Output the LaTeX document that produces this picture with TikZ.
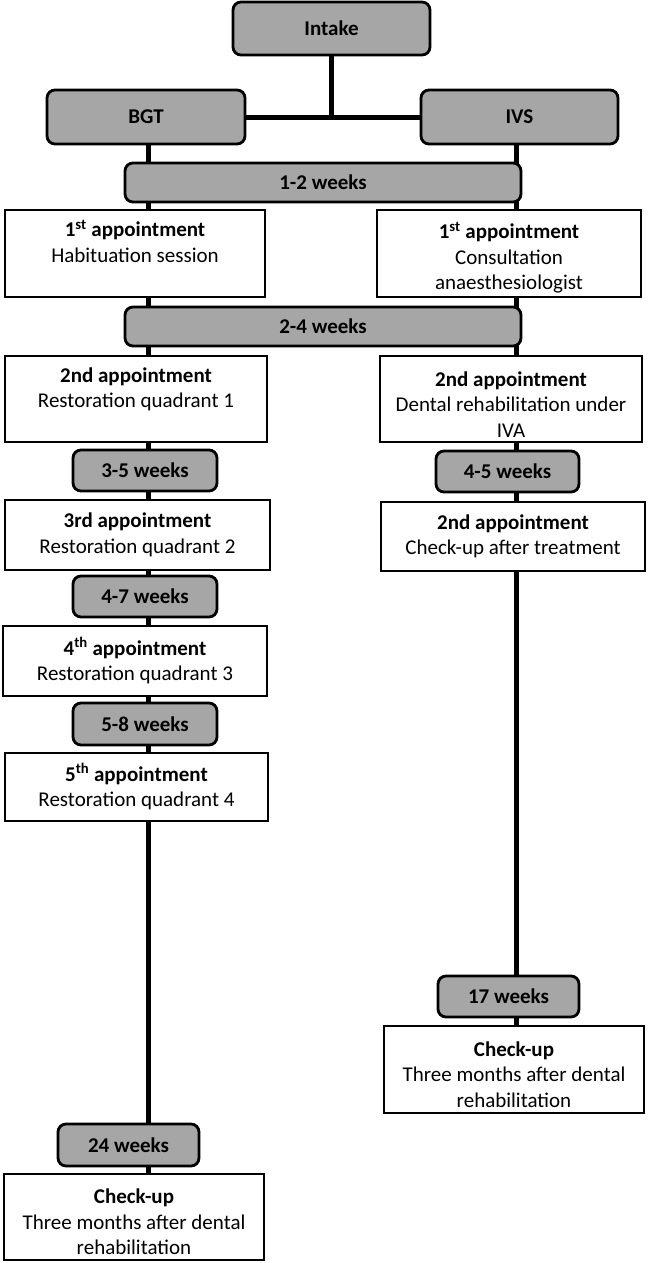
\documentclass[tikz,border=0pt]{standalone}
\usepackage{fontspec}
\setmainfont{Carlito}
\usetikzlibrary{backgrounds}
\definecolor{boxgray}{RGB}{166,166,166}
\newcommand{\toppad}{\rule{0pt}{25pt}}
\begin{document}
\begin{tikzpicture}[x=1pt,y=-1pt,
  every node/.style={font=\fontsize{21}{25.5}\selectfont, inner sep=0pt, align=center},
  gbox/.style={draw, line width=2.8pt, rounded corners=8pt, fill=boxgray, font=\fontsize{21}{25.5}\selectfont\bfseries},
  wbox/.style={draw, line width=2.5pt, fill=white},
  conn/.style={line width=5pt}]
\useasboundingbox (0,0) rectangle (648,1263);
% top
\node[gbox, minimum width=197pt, minimum height=53pt] (intake) at (331.5,28.5) {Intake};
\node[gbox, minimum width=198pt, minimum height=54pt] (bgt) at (146,117) {BGT};
\node[gbox, minimum width=197pt, minimum height=54pt] (ivs) at (519.5,117) {IVS};
\node[gbox, minimum width=396pt, minimum height=39pt] (w12) at (323,182.5) {1-2 weeks};
\node[wbox, minimum width=260pt, minimum height=87pt] (l1) at (135,253.5) {\toppad\textbf{1\textsuperscript{st} appointment}\\Habituation session\\\strut};
\node[wbox, minimum width=264pt, minimum height=87pt] (r1) at (509,253.5) {\toppad\textbf{1\textsuperscript{st} appointment}\\Consultation\\anaesthesiologist};
\node[gbox, minimum width=396pt, minimum height=39pt] (w24) at (323,326.5) {2-4 weeks};
\node[wbox, minimum width=262pt, minimum height=86pt] (l2) at (136,399) {\toppad\textbf{2nd appointment}\\Restoration quadrant 1\\\strut};
\node[wbox, minimum width=262pt, minimum height=86pt] (r2) at (511,399) {\toppad\textbf{2nd appointment}\\Dental rehabilitation under\\IVA};
% left column
\node[gbox, minimum width=144pt, minimum height=41pt] (w35) at (145,470.5) {3-5 weeks};
\node[wbox, minimum width=265pt, minimum height=70pt] (l3) at (137.5,535) {\textbf{3rd appointment}\\Restoration quadrant 2};
\node[gbox, minimum width=144pt, minimum height=41pt] (w47) at (145,596.5) {4-7 weeks};
\node[wbox, minimum width=264pt, minimum height=70pt] (l4) at (135,661) {\textbf{4\textsuperscript{th} appointment}\\Restoration quadrant 3};
\node[gbox, minimum width=144pt, minimum height=42pt] (w58) at (145,724) {5-8 weeks};
\node[wbox, minimum width=263pt, minimum height=68pt] (l5) at (136.5,787) {\textbf{5\textsuperscript{th} appointment}\\Restoration quadrant 4};
\node[gbox, minimum width=141pt, minimum height=42pt] (w24w) at (128.5,1145) {24 weeks};
\node[wbox, minimum width=260pt, minimum height=86pt] (lchk) at (134,1217) {\toppad\textbf{Check-up}\\Three months after dental\\rehabilitation};
% right column
\node[gbox, minimum width=143pt, minimum height=41pt] (w45) at (507.5,471.5) {4-5 weeks};
\node[wbox, minimum width=264pt, minimum height=69pt] (r3) at (513,536.5) {\textbf{2nd appointment}\\Check-up after treatment};
\node[gbox, minimum width=141pt, minimum height=41pt] (w17) at (508.5,996.5) {17 weeks};
\node[wbox, minimum width=260pt, minimum height=87pt] (rchk) at (514,1069.5) {\toppad\textbf{Check-up}\\Three months after dental\\rehabilitation};
% connectors
\coordinate (lx) at (148,0);
\coordinate (rx) at (516,0);
\begin{scope}[on background layer]
\draw[conn] (bgt.east) -- (ivs.west);
\draw[conn] (intake.south) -- (intake.south |- bgt.east);
\draw[conn] (bgt.south -| lx) -- (lchk.north -| lx);
\draw[conn] (ivs.south -| rx) -- (rchk.north -| rx);
\end{scope}
\end{tikzpicture}
\end{document}
